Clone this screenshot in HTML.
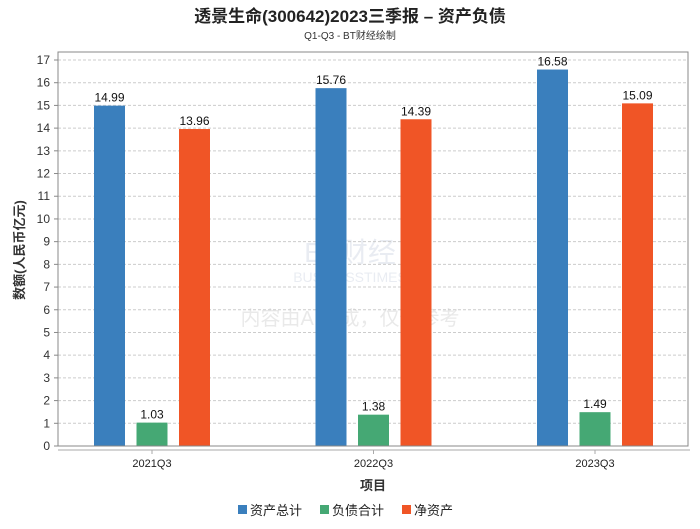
<!DOCTYPE html>
<html><head><meta charset="utf-8"><style>
body{margin:0;background:#fff;}
svg text{font-family:"Liberation Sans","Noto Sans CJK SC",sans-serif;}
</style></head><body>
<svg id="c" width="700" height="524" xmlns="http://www.w3.org/2000/svg">
<text x="350" y="22" text-anchor="middle" font-size="17" font-weight="bold" fill="#222">透景生命(300642)2023三季报 – 资产负债</text>
<text x="350" y="39" text-anchor="middle" font-size="10" fill="#333">Q1-Q3 - BT财经绘制</text>
<g id="wm" opacity="0.18">
<text x="350" y="262" text-anchor="middle" font-size="28" font-family="Liberation Serif" fill="#8899bb">BT财经</text>
<text x="350" y="282" text-anchor="middle" font-size="14" font-family="Liberation Serif" fill="#8899bb">BUSINESSTIMES</text>
<text x="350" y="325" text-anchor="middle" font-size="20" fill="#888">内容由AI生成，仅供参考</text>
</g>
<g id="grid"></g><g id="bars"></g>
<rect x="58" y="52" width="630" height="394" fill="none" stroke="#888"/>
<line x1="58" y1="450" x2="690" y2="450" stroke="#aaa"/>
<text transform="translate(24,250) rotate(-90)" text-anchor="middle" font-size="13" font-weight="bold" fill="#333">数额(人民币亿元)</text>
<text x="373" y="490" text-anchor="middle" font-size="13" font-weight="bold" fill="#333">项目</text>
<g id="legend"></g>
</svg>
<script>
const categories=["2021Q3","2022Q3","2023Q3"];
const seriesNames=["资产总计","负债合计","净资产"];
const totalAssets=[14.99,15.76,16.58];
const totalLiab=[1.03,1.38,1.49];
const netAssets=[13.96,14.39,15.09];
const yTicks=[0,1,2,3,4,5,6,7,8,9,10,11,12,13,14,15,16,17];
const colors=["#3a7fbd","#45a874","#f05526"];
const NS="http://www.w3.org/2000/svg";
const y=v=>446-v*(386/17);
const xc=i=>152+i*221.5;
function mk(t,a,p){const e=document.createElementNS(NS,t);for(const k in a)e.setAttribute(k,a[k]);p.appendChild(e);return e;}
const grid=document.getElementById('grid');
yTicks.forEach(t=>{
 if(t>0){const l=mk('line',{x1:58,x2:688,y1:y(t),y2:y(t),stroke:'#ccc','stroke-dasharray':'3,2'},grid);
 
 }
 const tx=mk('text',{x:50,y:y(t)+4,'text-anchor':'end','font-size':12,fill:'#333'},grid);tx.textContent=t;
 
 
 mk('line',{x1:54,x2:58,y1:y(t),y2:y(t),stroke:'#888'},grid);
});
const bars=document.getElementById('bars');
const series=[totalAssets,totalLiab,netAssets];
categories.forEach((c,i)=>{
 series.forEach((s,j)=>{
  const cx=xc(i)+(j-1)*42.5;
  const r=mk('rect',{x:cx-15.5,y:y(s[i]),width:31,height:446-y(s[i]),fill:colors[j]},bars);
  
  
  const t=mk('text',{x:cx,y:y(s[i])-4,'text-anchor':'middle','font-size':12,fill:'#111'},bars);t.textContent=s[i].toFixed(2);
  
  
 });
 mk('line',{x1:xc(i),x2:xc(i),y1:450,y2:454,stroke:'#aaa'},bars);
 const t=mk('text',{x:xc(i),y:467,'text-anchor':'middle','font-size':11,fill:'#222'},bars);t.textContent=c;
 
 
});
const lg=document.getElementById('legend');
const lx=[238,320,402];
seriesNames.forEach((n,j)=>{
 const g=mk('g',{},lg);
 
 
 mk('rect',{x:lx[j],y:505,width:9,height:9,fill:colors[j]},g);
 const t=mk('text',{x:lx[j]+12,y:515,'font-size':13,fill:'#222'},g);t.textContent=n;
});
</script>
</body></html>
